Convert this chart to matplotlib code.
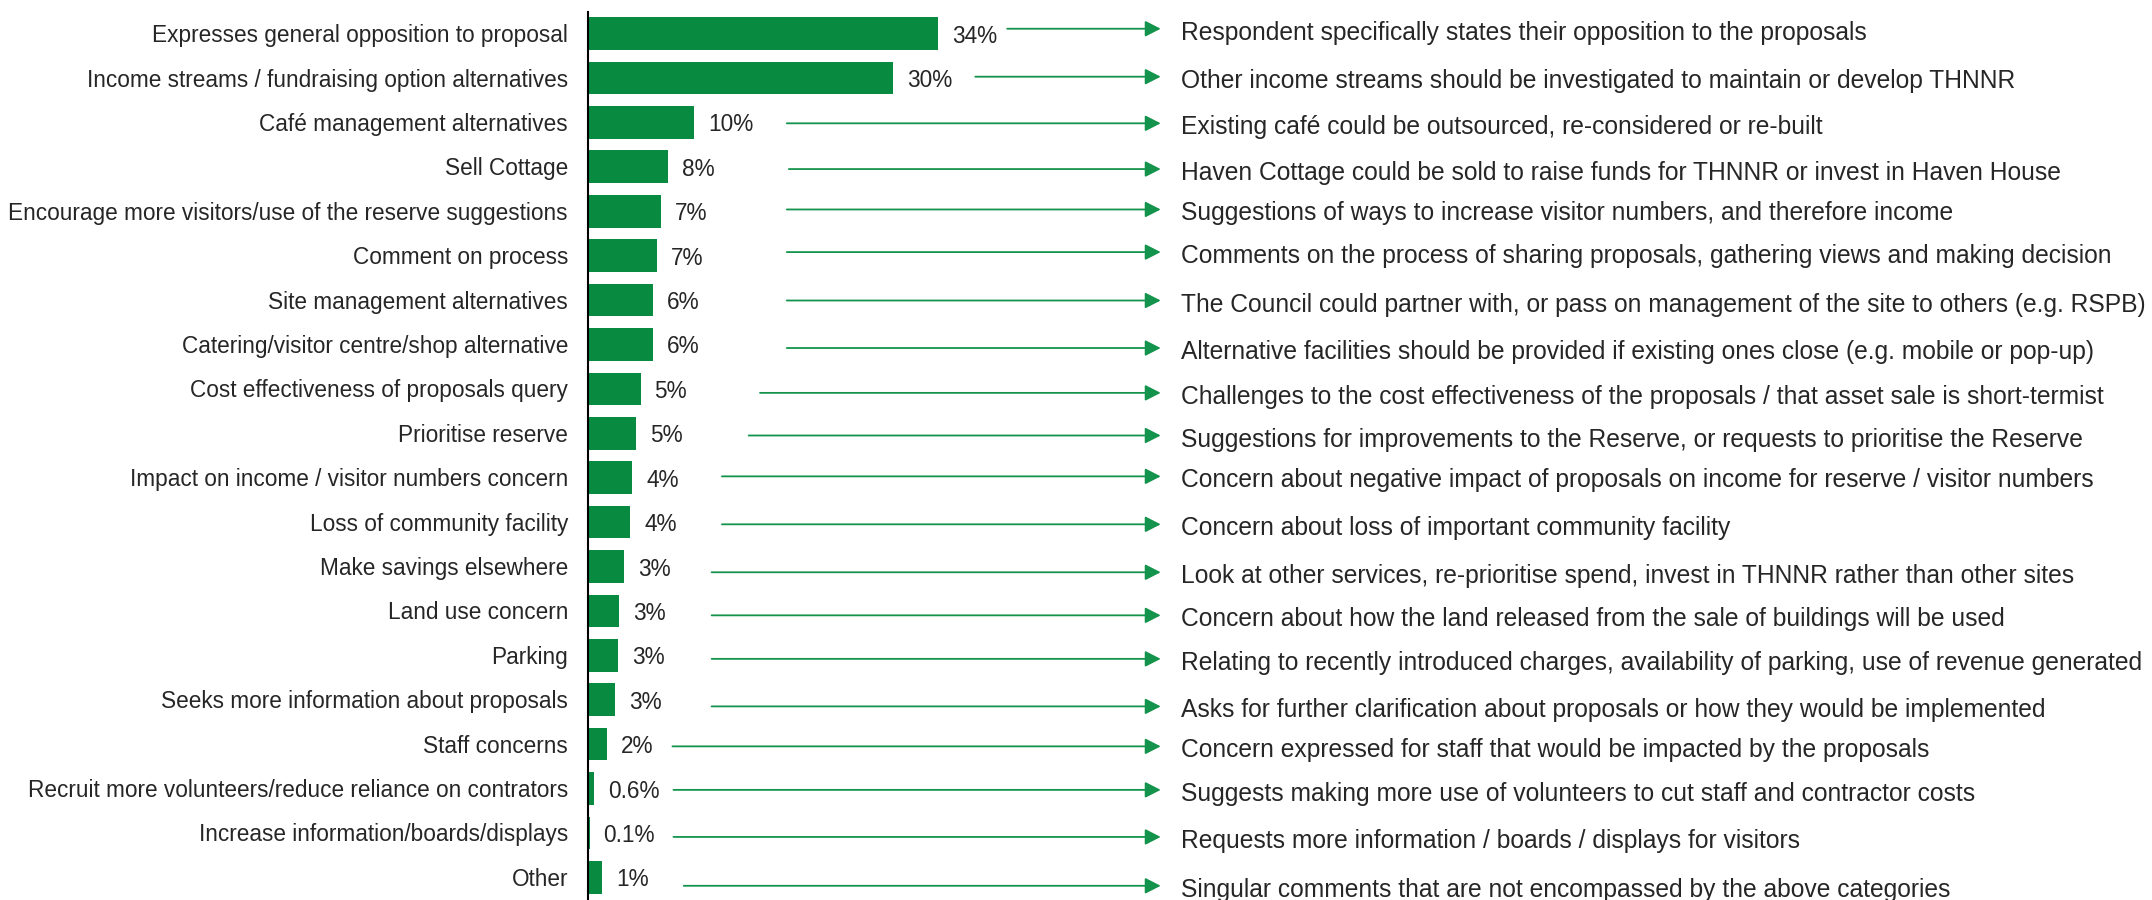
import matplotlib
matplotlib.use('Agg')
import matplotlib.pyplot as plt

plt.rcParams['font.family'] = ['Liberation Sans', 'DejaVu Sans']

# Dados
categories = [
    'Expresses general opposition to proposal',
    'Income streams / fundraising option alternatives',
    'Café management alternatives',
    'Sell Cottage',
    'Encourage more visitors/use of the reserve suggestions',
    'Comment on process',
    'Site management alternatives',
    'Catering/visitor centre/shop alternative',
    'Cost effectiveness of proposals query',
    'Prioritise reserve',
    'Impact on income / visitor numbers concern',
    'Loss of community facility',
    'Make savings elsewhere',
    'Land use concern',
    'Parking',
    'Seeks more information about proposals',
    'Staff concerns',
    'Recruit more volunteers/reduce reliance on contrators',
    'Increase information/boards/displays',
    'Other',
]
values = [34.0, 29.6, 10.3, 7.8, 7.1, 6.7, 6.3, 6.3, 5.1, 4.7,
          4.3, 4.1, 3.5, 3.0, 2.9, 2.6, 1.8, 0.6, 0.15, 1.4]
value_labels = ['34%', '30%', '10%', '8%', '7%', '7%', '6%', '6%', '5%', '5%',
                '4%', '4%', '3%', '3%', '3%', '3%', '2%', '0.6%', '0.1%', '1%']
descriptions = [
    'Respondent specifically states their opposition to the proposals',
    'Other income streams should be investigated to maintain or develop THNNR',
    'Existing café could be outsourced, re-considered or re-built',
    'Haven Cottage could be sold to raise funds for THNNR or invest in Haven House',
    'Suggestions of ways to increase visitor numbers, and therefore income',
    'Comments on the process of sharing proposals, gathering views and making decision',
    'The Council could partner with, or pass on management of the site to others (e.g. RSPB)',
    'Alternative facilities should be provided if existing ones close (e.g. mobile or pop-up)',
    'Challenges to the cost effectiveness of the proposals / that asset sale is short-termist',
    'Suggestions for improvements to the Reserve, or requests to prioritise the Reserve',
    'Concern about negative impact of proposals on income for reserve / visitor numbers',
    'Concern about loss of important community facility',
    'Look at other services, re-prioritise spend, invest in THNNR rather than other sites',
    'Concern about how the land released from the sale of buildings will be used',
    'Relating to recently introduced charges, availability of parking, use of revenue generated',
    'Asks for further clarification about proposals or how they would be implemented',
    'Concern expressed for staff that would be impacted by the proposals',
    'Suggests making more use of volunteers to cut staff and contractor costs',
    'Requests more information / boards / displays for visitors',
    'Singular comments that are not encompassed by the above categories',
]

# Layout das setas (em unidades do eixo)
arrow_start = [40.7, 37.6, 19.3, 19.5, 19.3, 19.3, 19.3, 19.3, 16.7, 15.6,
               13.0, 13.0, 12.0, 12.0, 12.0, 12.0, 8.2, 8.3, 8.3, 9.3]
arrow_dy = [-0.11, -0.03, 0.02, 0.05, -0.04, -0.08, 0.01, 0.08, 0.09, 0.05,
            -0.03, 0.05, 0.13, 0.10, 0.08, 0.15, 0.05, 0.03, 0.09, 0.19]
arrow_end = 55.6
desc_x = 57.6

bar_color = '#088a40'
arrow_color = '#13934b'
text_color = '#262626'
fs = 16.3
fs_desc = 17.7

fig = plt.figure(figsize=(21.52, 9), dpi=100)
ax = fig.add_axes([588 / 2152, 0, 1 - 588 / 2152, (900 - 12.3) / 900])

y = list(range(len(categories)))
ax.barh(y, values, height=0.736, color=bar_color)

ax.set_xlim(0, (2152 - 588) / 10.3)
ax.set_ylim(19.51, -0.48)

for i, (cat, v, lab, desc) in enumerate(zip(categories, values, value_labels, descriptions)):
    # nome da categoria
    ax.annotate(cat, xy=(0, i), xytext=(-20, -8.5), textcoords='offset pixels',
                ha='right', va='baseline', fontsize=fs, color=text_color)
    # percentual
    ax.annotate(lab, xy=(v, i), xytext=(14, -9), textcoords='offset pixels',
                ha='left', va='baseline', fontsize=fs, color=text_color)
    # seta + descrição
    ya = i + arrow_dy[i]
    ax.annotate('', xy=(arrow_end, ya), xytext=(arrow_start[i], ya),
                arrowprops=dict(arrowstyle='-|>,head_length=0.94,head_width=0.48',
                                color=arrow_color, lw=1.3, mutation_scale=10,
                                shrinkA=0, shrinkB=0))
    ax.annotate(desc, xy=(desc_x, ya), xytext=(0, -11), textcoords='offset pixels',
                ha='left', va='baseline', fontsize=fs_desc, color=text_color)

for s in ['top', 'right', 'bottom']:
    ax.spines[s].set_visible(False)
ax.spines['left'].set_linewidth(1.5)
ax.spines['left'].set_color('black')
ax.set_xticks([])
ax.set_yticks([])

fig.savefig('out.png', dpi=100)
